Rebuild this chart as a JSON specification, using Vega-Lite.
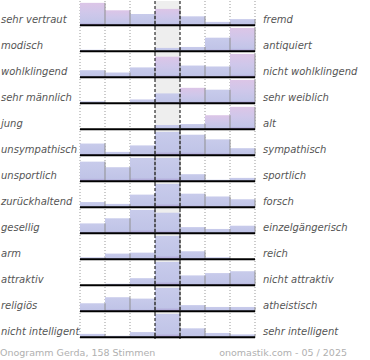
{
  "$schema": "https://vega.github.io/schema/vega-lite/v6.json",
  "padding": 0,
  "background": "white",
  "config": {
    "view": {"stroke": null},
    "font": "DejaVu Sans",
    "scale": {"bandPaddingInner": 0, "bandPaddingOuter": 0, "rectBandPaddingInner": 0}
  },
  "datasets": {
    "bars": [
      {"r": 1, "c": 1, "h": 24}, {"r": 1, "c": 2, "h": 16}, {"r": 1, "c": 3, "h": 12}, {"r": 1, "c": 4, "h": 17.5}, {"r": 1, "c": 5, "h": 9.5}, {"r": 1, "c": 6, "h": 3.5}, {"r": 1, "c": 7, "h": 6.5},
      {"r": 2, "c": 1, "h": 1.5}, {"r": 2, "c": 2, "h": 0}, {"r": 2, "c": 3, "h": 0}, {"r": 2, "c": 4, "h": 3.5}, {"r": 2, "c": 5, "h": 4.5}, {"r": 2, "c": 6, "h": 14.5}, {"r": 2, "c": 7, "h": 25},
      {"r": 3, "c": 1, "h": 7.5}, {"r": 3, "c": 2, "h": 5}, {"r": 3, "c": 3, "h": 10.5}, {"r": 3, "c": 4, "h": 22}, {"r": 3, "c": 5, "h": 12.5}, {"r": 3, "c": 6, "h": 11.5}, {"r": 3, "c": 7, "h": 25},
      {"r": 4, "c": 1, "h": 2}, {"r": 4, "c": 2, "h": 0}, {"r": 4, "c": 3, "h": 4}, {"r": 4, "c": 4, "h": 10.5}, {"r": 4, "c": 5, "h": 16.5}, {"r": 4, "c": 6, "h": 14.5}, {"r": 4, "c": 7, "h": 25},
      {"r": 5, "c": 1, "h": 0}, {"r": 5, "c": 2, "h": 0}, {"r": 5, "c": 3, "h": 0}, {"r": 5, "c": 4, "h": 4.5}, {"r": 5, "c": 5, "h": 5.5}, {"r": 5, "c": 6, "h": 15}, {"r": 5, "c": 7, "h": 24},
      {"r": 6, "c": 1, "h": 12.5}, {"r": 6, "c": 2, "h": 3.5}, {"r": 6, "c": 3, "h": 10.5}, {"r": 6, "c": 4, "h": 25}, {"r": 6, "c": 5, "h": 22}, {"r": 6, "c": 6, "h": 17}, {"r": 6, "c": 7, "h": 7.5},
      {"r": 7, "c": 1, "h": 21}, {"r": 7, "c": 2, "h": 15}, {"r": 7, "c": 3, "h": 25}, {"r": 7, "c": 4, "h": 25}, {"r": 7, "c": 5, "h": 7.5}, {"r": 7, "c": 6, "h": 1.5}, {"r": 7, "c": 7, "h": 3.5},
      {"r": 8, "c": 1, "h": 5.5}, {"r": 8, "c": 2, "h": 3.5}, {"r": 8, "c": 3, "h": 13.5}, {"r": 8, "c": 4, "h": 25}, {"r": 8, "c": 5, "h": 14.5}, {"r": 8, "c": 6, "h": 11.5}, {"r": 8, "c": 7, "h": 8.5},
      {"r": 9, "c": 1, "h": 10.5}, {"r": 9, "c": 2, "h": 16}, {"r": 9, "c": 3, "h": 25}, {"r": 9, "c": 4, "h": 22}, {"r": 9, "c": 5, "h": 6.5}, {"r": 9, "c": 6, "h": 4.5}, {"r": 9, "c": 7, "h": 8},
      {"r": 10, "c": 1, "h": 2}, {"r": 10, "c": 2, "h": 6}, {"r": 10, "c": 3, "h": 7}, {"r": 10, "c": 4, "h": 25}, {"r": 10, "c": 5, "h": 8.5}, {"r": 10, "c": 6, "h": 2}, {"r": 10, "c": 7, "h": 0},
      {"r": 11, "c": 1, "h": 0}, {"r": 11, "c": 2, "h": 1.5}, {"r": 11, "c": 3, "h": 7.5}, {"r": 11, "c": 4, "h": 25}, {"r": 11, "c": 5, "h": 10.5}, {"r": 11, "c": 6, "h": 13}, {"r": 11, "c": 7, "h": 15},
      {"r": 12, "c": 1, "h": 8.5}, {"r": 12, "c": 2, "h": 15}, {"r": 12, "c": 3, "h": 13.5}, {"r": 12, "c": 4, "h": 25}, {"r": 12, "c": 5, "h": 6.5}, {"r": 12, "c": 6, "h": 4.5}, {"r": 12, "c": 7, "h": 4.5},
      {"r": 13, "c": 1, "h": 3.5}, {"r": 13, "c": 2, "h": 1.5}, {"r": 13, "c": 3, "h": 5.5}, {"r": 13, "c": 4, "h": 25}, {"r": 13, "c": 5, "h": 9.5}, {"r": 13, "c": 6, "h": 4.5}, {"r": 13, "c": 7, "h": 3}
    ],
    "labels": [
      {"r": 1, "left": "sehr vertraut", "right": "fremd"},
      {"r": 2, "left": "modisch", "right": "antiquiert"},
      {"r": 3, "left": "wohlklingend", "right": "nicht wohlklingend"},
      {"r": 4, "left": "sehr männlich", "right": "sehr weiblich"},
      {"r": 5, "left": "\u00a0jung", "right": "alt"},
      {"r": 6, "left": "unsympathisch", "right": "sympathisch"},
      {"r": 7, "left": "unsportlich", "right": "sportlich"},
      {"r": 8, "left": "zurückhaltend", "right": "forsch"},
      {"r": 9, "left": "gesellig", "right": "einzelgängerisch"},
      {"r": 10, "left": "arm", "right": "reich"},
      {"r": 11, "left": "attraktiv", "right": "nicht attraktiv"},
      {"r": 12, "left": "religiös", "right": "atheistisch"},
      {"r": 13, "left": "nicht intelligent", "right": "sehr intelligent"}
    ]
  },
  "spacing": 0,
  "vconcat": [
    {
      "data": {"name": "bars"},
      "transform": [
        {"lookup": "r", "from": {"data": {"name": "labels"}, "key": "r", "fields": ["left", "right"]}}
      ],
      "facet": {"row": {"field": "r", "type": "ordinal", "header": {"labels": false, "title": null}}},
      "spacing": 0,
      "bounds": "flush",
      "spec": {
        "width": 175,
        "height": 26,
        "layer": [
          {
            "transform": [{"filter": "datum.c == 4"}],
            "mark": {"type": "rect", "color": "#eeeeee"},
            "encoding": {
              "x": {"field": "c", "type": "ordinal", "axis": null, "scale": {"domain": [1, 2, 3, 4, 5, 6, 7], "paddingInner": 0, "paddingOuter": 0}}
            }
          },
          {
            "transform": [{"filter": "datum.c == 1 || datum.c == 2 || datum.c == 3 || datum.c == 6 || datum.c == 7"}],
            "mark": {"type": "rule", "color": "#999999", "strokeDash": [1, 2], "strokeWidth": 1},
            "encoding": {"x": {"field": "c", "type": "ordinal", "bandPosition": 0}}
          },
          {
            "transform": [{"filter": "datum.c == 7"}],
            "mark": {"type": "rule", "color": "#999999", "strokeDash": [1, 2], "strokeWidth": 1},
            "encoding": {"x": {"field": "c", "type": "ordinal", "bandPosition": 1}}
          },
          {
            "transform": [{"filter": "datum.r <= 5 && datum.h >= 15"}],
            "mark": {
              "type": "bar",
              "color": {"gradient": "linear", "x1": 0, "y1": 0, "x2": 0, "y2": 1, "stops": [
                {"offset": 0, "color": "#dcc5e7"},
                {"offset": 0.45, "color": "#cfc7ea"},
                {"offset": 0.88, "color": "#c2c5e8"},
                {"offset": 1, "color": "#a99bd1"}
              ]}
            },
            "encoding": {
              "x": {"field": "c", "type": "ordinal"},
              "y": {"field": "h", "type": "quantitative", "axis": null, "scale": {"domain": [-1, 25]}}
            }
          },
          {
            "transform": [{"filter": "!(datum.r <= 5 && datum.h >= 15)"}],
            "mark": {
              "type": "bar",
              "color": {"gradient": "linear", "x1": 0, "y1": 0, "x2": 0, "y2": 1, "stops": [
                {"offset": 0, "color": "#c8cbeb"},
                {"offset": 0.85, "color": "#c0c4e7"},
                {"offset": 1, "color": "#a99bd1"}
              ]}
            },
            "encoding": {
              "x": {"field": "c", "type": "ordinal"},
              "y": {"field": "h", "type": "quantitative"}
            }
          },
          {
            "transform": [{"filter": "datum.h > 0"}],
            "mark": {"type": "rule", "color": "#8f8f8f", "strokeWidth": 1},
            "encoding": {
              "x": {"field": "c", "type": "ordinal", "bandPosition": 1},
              "y": {"field": "h", "type": "quantitative"},
              "y2": {"datum": 0}
            }
          },
          {
            "transform": [{"filter": "datum.c == 4 || datum.c == 5"}],
            "mark": {"type": "rule", "color": "#000000", "strokeDash": [3, 2], "strokeWidth": 1},
            "encoding": {"x": {"field": "c", "type": "ordinal", "bandPosition": 0}}
          },
          {
            "transform": [{"filter": "datum.c == 1"}],
            "mark": {"type": "rule", "color": "#000000", "strokeWidth": 2},
            "encoding": {"y": {"datum": 0}}
          },
          {
            "transform": [{"filter": "datum.c == 1"}],
            "mark": {"type": "text", "align": "left", "baseline": "alphabetic", "dx": -79, "dy": -2, "fontSize": 10, "fontStyle": "oblique", "color": "#555555"},
            "encoding": {
              "x": {"field": "c", "type": "ordinal", "bandPosition": 0},
              "y": {"datum": 0},
              "text": {"field": "left"}
            }
          },
          {
            "transform": [{"filter": "datum.c == 7"}],
            "mark": {"type": "text", "align": "left", "baseline": "alphabetic", "dx": 8, "dy": -2, "fontSize": 10, "fontStyle": "oblique", "color": "#555555"},
            "encoding": {
              "x": {"field": "c", "type": "ordinal", "bandPosition": 1},
              "y": {"datum": 0},
              "text": {"field": "right"}
            }
          }
        ]
      }
    },
    {
      "width": 175,
      "height": 26,
      "layer": [
        {
          "data": {"values": [{"t": "Onogramm Gerda, 158 Stimmen"}]},
          "mark": {"type": "text", "align": "left", "baseline": "middle", "dx": -80, "fontSize": 9.5, "color": "#b0b0b0"},
          "encoding": {
            "x": {"datum": 0, "type": "quantitative", "scale": {"domain": [0, 7]}, "axis": null},
            "text": {"field": "t"}
          }
        },
        {
          "data": {"values": [{"t": "onomastik.com - 05 / 2025"}]},
          "mark": {"type": "text", "align": "right", "baseline": "middle", "dx": 92, "fontSize": 9.5, "color": "#b0b0b0"},
          "encoding": {
            "x": {"datum": 7, "type": "quantitative"},
            "text": {"field": "t"}
          }
        }
      ]
    }
  ]
}
